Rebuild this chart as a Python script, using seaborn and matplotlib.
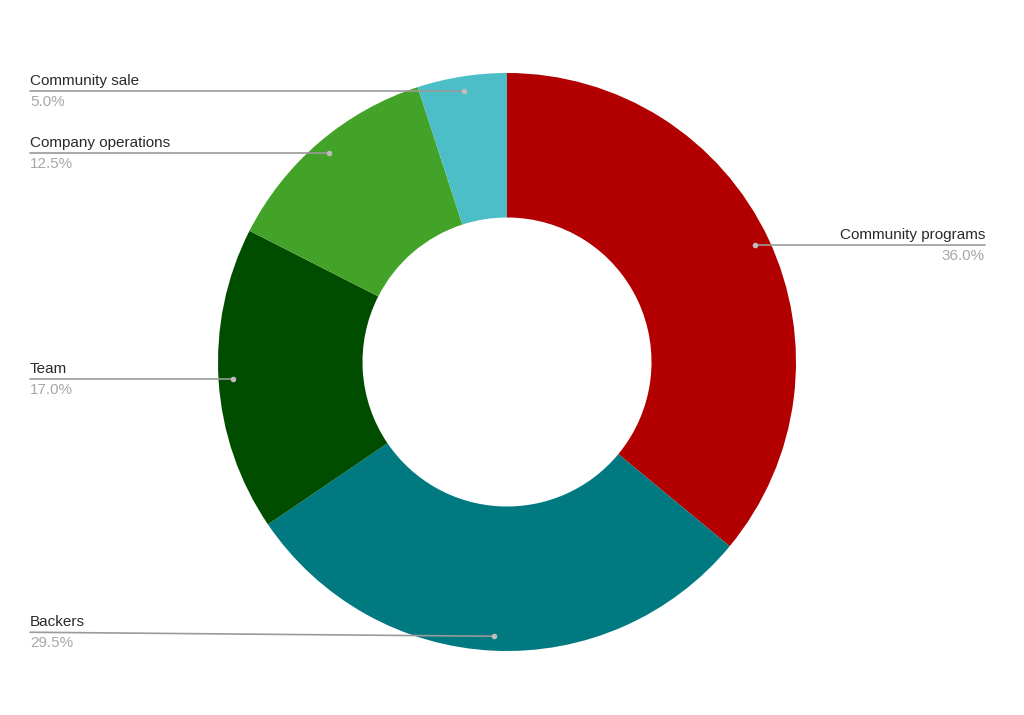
import numpy as np
import matplotlib
matplotlib.use("Agg")
import matplotlib.pyplot as plt
import seaborn as sns

# slice data (clockwise from 12 o'clock)
categories = ["Community programs", "Backers", "Team", "Company operations", "Community sale"]
shares = [36.0, 29.5, 17.0, 12.5, 5.0]
colors = ["#b20000", "#007a80", "#004d00", "#43a329", "#4bbec8"]

sns.set_theme(style="white")
plt.rcParams['font.family'] = ['Liberation Sans', 'DejaVu Sans']

W, H = 1024, 715
fig = plt.figure(figsize=(W / 100, H / 100), dpi=100)
ax = fig.add_axes([0, 0, 1, 1])

cx, cy, R = 507, H - 362, 289
wedges, _ = ax.pie(shares, colors=colors, startangle=90, counterclock=False,
                   center=(cx, cy), radius=R, frame=True,
                   wedgeprops=dict(width=R * 0.5, linewidth=0))
ax.set_xlim(0, W)
ax.set_ylim(0, H)
ax.set_aspect("equal")
ax.axis("off")

# label placement: side and a small vertical nudge for the text line
label_side = {"Community programs": "right"}
label_nudge = {"Backers": 4}

for w, name, val in zip(wedges, categories, shares):
    ang = np.deg2rad((w.theta1 + w.theta2) / 2)
    px = cx + R * 0.95 * np.cos(ang)
    py = cy + R * 0.95 * np.sin(ang)
    ly = py + label_nudge.get(name, 0)
    if label_side.get(name) == "right":
        lx, ha = 985, "right"
    else:
        lx, ha = 30, "left"
    ax.plot([px, lx], [py, ly], color="#9a9a9a", lw=1.2, zorder=3)
    ax.plot(px, py, "o", ms=3, color="#bdbdbd", zorder=4)
    ax.text(lx, ly + 3, name, ha=ha, va="bottom", fontsize=11, color="#2a2a2a")
    ax.text(lx, ly - 4, f"{val:.1f}%", ha=ha, va="top", fontsize=11, color="#a8a8a8")

fig.savefig("out.png", dpi=100, facecolor="white")
